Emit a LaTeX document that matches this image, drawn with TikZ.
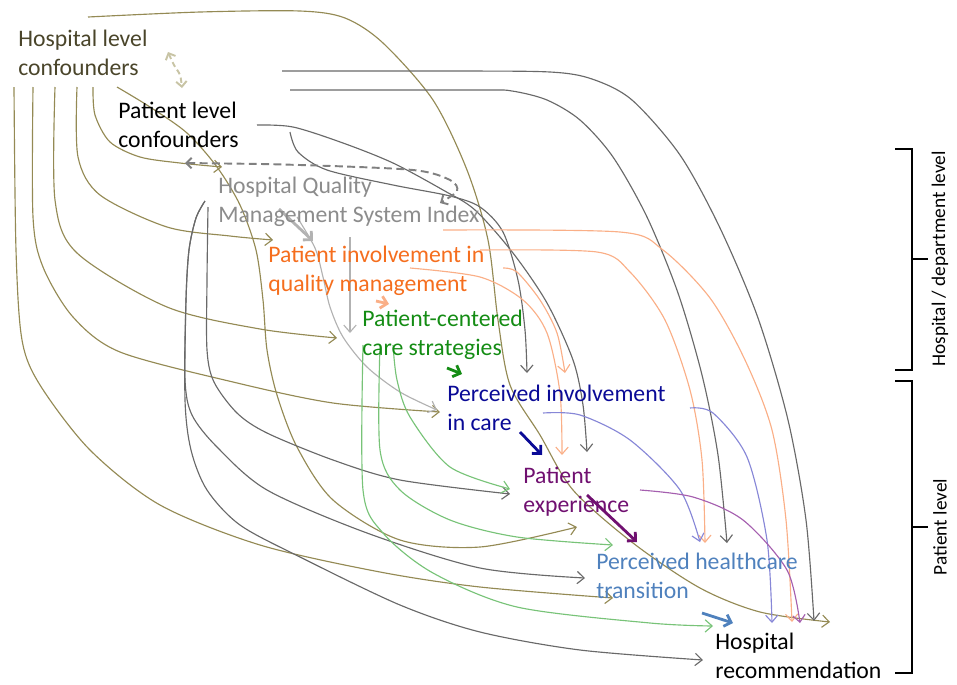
\documentclass[tikz,border=0pt]{standalone}
\usepackage{fontspec}
\setmainfont{Carlito}
\usetikzlibrary{arrows.meta}
\definecolor{hlvtext}{RGB}{74,69,42}
\definecolor{hlvline}{RGB}{148,138,84}
\definecolor{hlvdash}{RGB}{200,196,165}
\definecolor{plvline}{RGB}{105,105,105}
\definecolor{qmstext}{RGB}{140,140,140}
\definecolor{qmsline}{RGB}{178,178,178}
\definecolor{qmsdash}{RGB}{128,128,128}
\definecolor{piqtext}{RGB}{245,110,30}
\definecolor{piqline}{RGB}{250,175,135}
\definecolor{pcctext}{RGB}{20,140,20}
\definecolor{pccline}{RGB}{120,195,120}
\definecolor{pictext}{RGB}{10,10,150}
\definecolor{picline}{RGB}{135,135,215}
\definecolor{pextext}{RGB}{112,16,112}
\definecolor{pexline}{RGB}{165,95,175}
\definecolor{phttext}{RGB}{79,129,189}
\tikzset{
  lbl/.style={anchor=base west, align=left, inner sep=0pt, font=\fontsize{13.5}{16.2}\selectfont},
  lvl/.style={rotate=90, inner sep=0pt, font=\fontsize{11}{13}\selectfont},
  conn/.style={line width=0.65pt, -{Straight Barb[length=4pt,width=7pt]}},
  fat/.style={line width=1.6pt, -{Straight Barb[length=3.5pt,width=7pt]}},
  hlink/.style={conn, draw=hlvline},
  plink/.style={conn, draw=plvline},
  qlink/.style={conn, draw=qmsline},
  ilink/.style={conn, draw=piqline},
  clink/.style={conn, draw=pccline},
  vlink/.style={conn, draw=picline},
  elink/.style={conn, draw=pexline},
  bracket/.style={line width=1.4pt, black},
}
\begin{document}
\begin{tikzpicture}[x=0.02cm,y=-0.02cm]
\useasboundingbox (0,0) rectangle (957,684);
% hospital level confounders
\draw[hlink] plot[smooth] coordinates {(88,17) (200,12) (300,11) (345,18) (383,43) (433,100) (467,170) (488,240) (498,320) (510,385) (540,435) (573,490) (633,543) (700,588) (760,612) (830,622)};
\draw[hlink] plot[smooth] coordinates {(93,87) (95,115) (110,142) (140,157) (180,163) (222,167)};
\draw[hlink] plot[smooth] coordinates {(77,87) (78,157) (100,195) (167,227) (230,236) (273,240)};
\draw[hlink] plot[smooth] coordinates {(55,87) (55,200) (77,253) (167,307) (260,329) (337,338)};
\draw[hlink] plot[smooth] coordinates {(33,87) (33,217) (43,267) (73,317) (120,352) (233,382) (333,403) (440,412)};
\draw[hlink] plot[smooth] coordinates {(14,87) (16,250) (22,340) (40,385) (90,450) (160,505) (260,545) (380,572) (480,587) (613,598)};
\draw[hlink] plot[smooth] coordinates {(117,87) (150,107) (187,133) (217,167) (240,205) (256,250) (263,300) (267,350) (277,395) (297,447) (333,500) (400,540) (480,547) (577,527)};
\draw[draw=hlvdash, line width=1.1pt, dash pattern=on 3pt off 2pt, {Straight Barb[length=3pt,width=6pt]}-{Straight Barb[length=3pt,width=6pt]}] plot[smooth] coordinates {(168,52) (174,65) (180,75) (182,88)};
% patient level confounders
\draw[plink] plot[smooth] coordinates {(282,71) (450,71) (550,72) (592,79) (632,100) (680,155) (720,228) (758,318) (788,420) (806,520) (814,621)};
\draw[plink] plot[smooth] coordinates {(290,90) (480,90) (512,91) (547,100) (580,120) (613,157) (647,217) (678,293) (702,375) (718,455) (727,543)};
\draw[plink] plot[smooth] coordinates {(290,132) (298,152) (327,170) (393,185) (450,196) (480,207) (503,232) (518,280) (525,330) (527,373)};
\draw[plink] plot[smooth] coordinates {(257,125) (293,127) (343,143) (393,163) (443,190) (475,210) (513,253) (547,303) (573,360) (583,405) (587,452)};
\draw[plink] plot[smooth] coordinates {(205,201) (196,218) (189,250) (186,300) (185,380) (192,415) (217,447) (267,490) (367,533) (480,568) (585,578)};
\draw[plink] plot[smooth] coordinates {(205,201) (196,218) (189,250) (186,300) (185,400) (191,450) (207,490) (240,525) (300,557) (400,605) (480,632) (580,650) (703,660)};
\draw[plink] plot[smooth] coordinates {(208,207) (207,280) (207,350) (214,382) (237,413) (267,433) (333,460) (400,480) (510,494)};
\draw[draw=qmsdash, line width=1.1pt, dash pattern=on 4.5pt off 2.5pt, {Straight Barb[length=3pt,width=6pt]}-{Straight Barb[length=3pt,width=6pt]}] plot[smooth] coordinates {(185,163) (300,165) (413,170) (450,180) (457,191) (440,203)};
% quality management system index
\draw[qlink, fat] (279,209) -- (313,241);
\draw[qlink] (350,237) -- (350,333);
\draw[qlink] plot[smooth] coordinates {(297,217) (315,248) (323,277) (330,307) (343,337) (367,367) (400,392) (437,410)};
% patient involvement in quality management
\draw[ilink] plot[smooth] coordinates {(443,230) (620,232) (663,250) (710,298) (745,360) (772,430) (786,520) (792,622)};
\draw[ilink] plot[smooth] coordinates {(480,250) (597,252) (630,272) (665,320) (690,390) (702,460) (705,543)};
\draw[ilink] plot[smooth] coordinates {(503,268) (517,272) (540,300) (557,333) (565,373)};
\draw[ilink] plot[smooth] coordinates {(410,268) (480,277) (523,300) (547,333) (560,393) (562,455)};
\draw[ilink, fat] (376,301) -- (389,304);
% patient-centered care strategies
\draw[fat, draw=pcctext] (447,368) -- (462,374);
\draw[clink] plot[smooth] coordinates {(393,345) (397,380) (410,417) (450,467) (510,489)};
\draw[clink] plot[smooth] coordinates {(380,345) (380,450) (400,490) (450,520) (517,537) (613,545)};
\draw[clink] plot[smooth] coordinates {(363,345) (363,490) (383,533) (433,573) (517,607) (650,623) (713,626)};
% perceived involvement in care
\draw[fat, draw=pictext] (520,432) -- (542,455);
\draw[vlink] plot[smooth] coordinates {(543,413) (580,415) (630,440) (680,490) (700,542)};
\draw[vlink] plot[smooth] coordinates {(690,408) (713,413) (747,457) (767,540) (772,623)};
% patient experience
\draw[fat, draw=pextext] (587,495) -- (637,542);
\draw[elink] plot[smooth] coordinates {(640,490) (693,497) (743,520) (787,570) (800,623)};
% perceived healthcare transition
\draw[fat, draw=phttext] (702,613) -- (733,623);
% labels
\node[lbl, text=hlvtext] (hlc) at (18,75) {Hospital level\\confounders};
\node[lbl] (plc) at (118,147) {Patient level\\confounders};
\node[lbl, text=qmstext] (qms) at (218,222) {Hospital Quality\\Management System Index};
\node[lbl, text=piqtext] (piq) at (268,291) {Patient involvement in\\quality management};
\node[lbl, text=pcctext] (pcc) at (362,355) {Patient-centered\\care strategies};
\node[lbl, text=pictext] (pic) at (447,430) {Perceived involvement\\in care};
\node[lbl, text=pextext] (pex) at (523,512) {Patient\\experience};
\node[lbl, text=phttext] (pht) at (596,598) {Perceived healthcare\\transition};
\node[lbl] (hrec) at (715,678) {Hospital\\recommendation};
% levels
\draw[bracket] (895,149) -- (912,149) -- (912,370) -- (895,370) (912,259) -- (928,259);
\draw[bracket] (895,381) -- (912,381) -- (912,673) -- (895,673) (912,527) -- (928,527);
\node[lvl] (lvh) at (940,259) {Hospital / department level};
\node[lvl] (lvp) at (940,527) {Patient level};
\end{tikzpicture}
\end{document}
